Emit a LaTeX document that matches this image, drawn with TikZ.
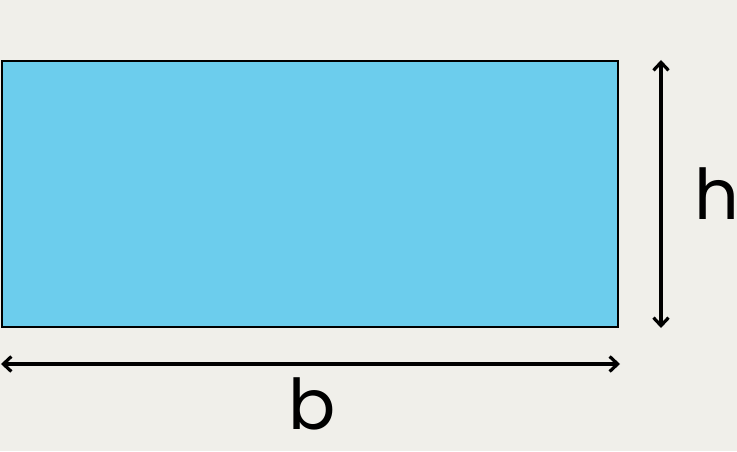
\documentclass[tikz,border=0pt]{standalone}
\usepackage{fontspec}
\setmainfont{Poppins}
\usetikzlibrary{arrows.meta}
\definecolor{paper}{HTML}{F0EFEA}
\definecolor{skyblue}{HTML}{6CCDED}
\begin{document}
\begin{tikzpicture}[
x=1pt, y=1pt,
area/.style={
        draw,
        line width=2.6pt,
        fill=skyblue,
        minimum width=616pt,
        minimum height=266pt,
        inner sep=0pt,
    },
dim/.style={
        line width=3.2pt,
        {Straight Barb[length=8pt,width=15pt]}-{Straight Barb[length=8pt,width=15pt]},
    },
lbl/.style={
        anchor=base,
        font=\fontsize{70}{70}\selectfont,
    },
]
\fill[paper] (0,0) rectangle (737,451);
\useasboundingbox (0,0) rectangle (737,451);

\node[area] (rect) at (310,257) {};

% dimension lines
\coordinate (htop) at (661,391);
\coordinate (hbot) at (661,123);
\coordinate (bleft) at (1,87);
\coordinate (bright) at (620,87);
\draw[dim] (htop) -- (hbot);
\draw[dim] (bleft) -- (bright);

\node[lbl] (hlabel) at (717,232) {h};
\node[lbl] (blabel) at (312,22) {b};
\end{tikzpicture}
\end{document}
